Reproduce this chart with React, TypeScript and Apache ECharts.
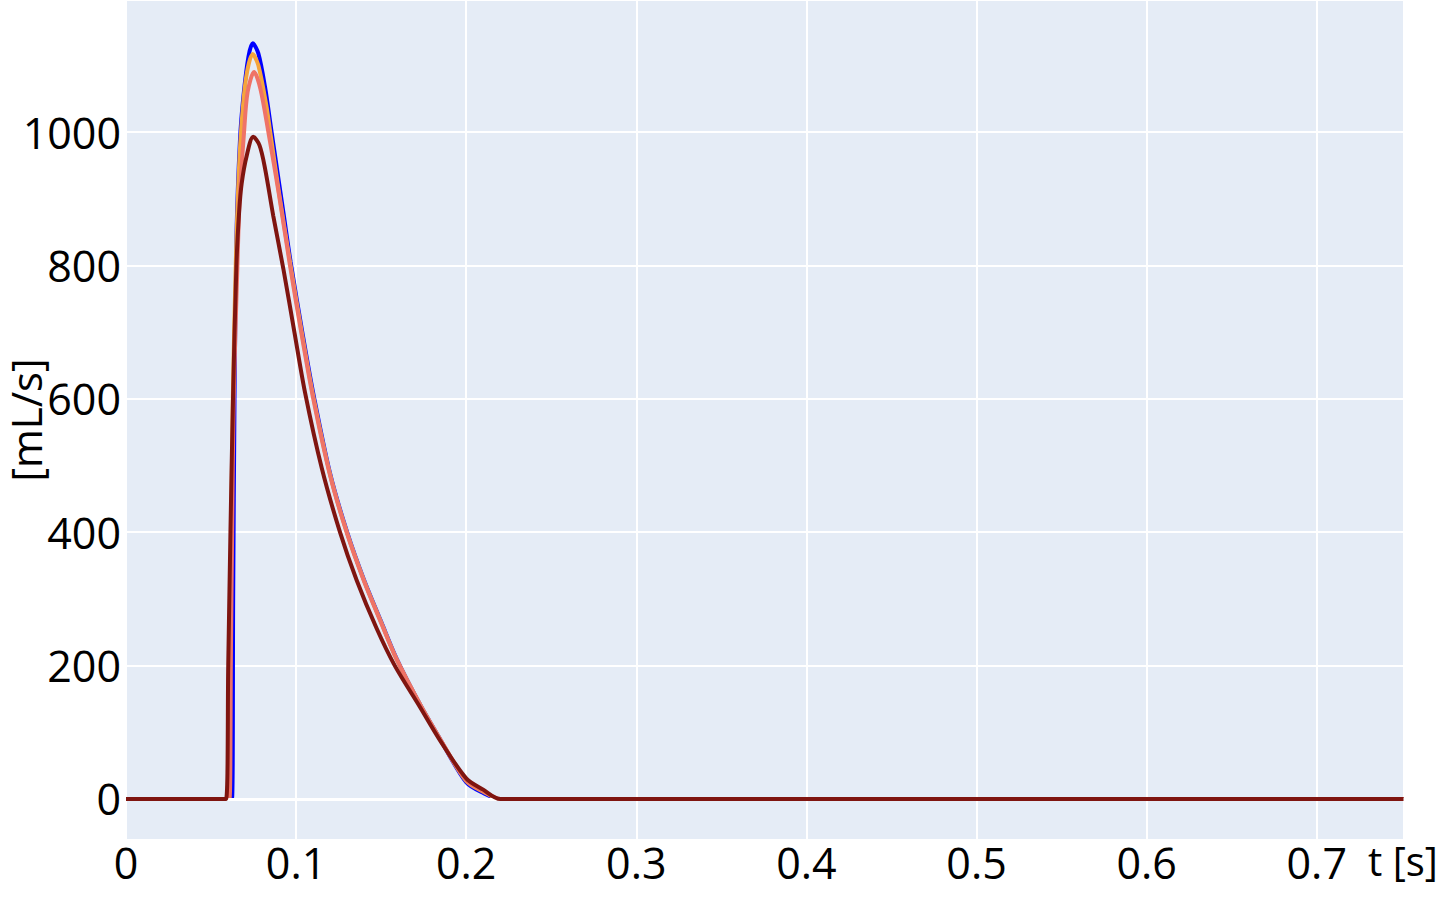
import React, { useEffect, useRef } from "react";
import * as echarts from "echarts";

// time [s] and flow [mL/s] values
const tBlue = [0, 0.0623, 0.063, 0.0638, 0.065, 0.067, 0.069, 0.072, 0.0745, 0.0778, 0.0817, 0.0856, 0.0876, 0.0925, 0.0968, 0.104, 0.1105, 0.12, 0.13, 0.14, 0.15, 0.159, 0.1728, 0.1846, 0.2, 0.21, 0.22, 0.751];
const qBlue = [0, 0, 300, 600, 850, 988, 1053, 1113, 1133, 1118, 1068, 1000, 965, 880, 805, 695, 603, 488, 400, 328, 266, 211, 142, 90, 25, 9, 0, 0];

const tOrange = [0, 0.0603, 0.0615, 0.0628, 0.0645, 0.066, 0.0676, 0.0705, 0.0745, 0.0778, 0.0825, 0.0845, 0.09, 0.0966, 0.1035, 0.1103, 0.12, 0.1298, 0.14, 0.15, 0.159, 0.1728, 0.1846, 0.2, 0.21, 0.22, 0.751];
const qOrange = [0, 0, 320, 600, 800, 920, 1000, 1080, 1117, 1100, 1040, 1005, 908, 802, 697, 601, 486, 400, 327, 265, 210, 142, 90, 27, 11, 0, 0];

const tSalmon = [0, 0.0608, 0.0616, 0.0624, 0.0633, 0.0655, 0.0668, 0.0694, 0.0715, 0.0753, 0.079, 0.0837, 0.09, 0.0964, 0.103, 0.1101, 0.12, 0.1297, 0.14, 0.15, 0.159, 0.1728, 0.1846, 0.2, 0.21, 0.22, 0.751];
const qSalmon = [0, 0, 200, 400, 600, 800, 900, 1000, 1060, 1090, 1065, 1000, 905, 800, 700, 600, 485, 400, 326, 264, 210, 142, 90, 28, 12, 0, 0];

const tDark = [0, 0.0588, 0.0601, 0.0614, 0.0629, 0.0649, 0.0665, 0.068, 0.071, 0.0748, 0.0785, 0.0817, 0.0866, 0.0925, 0.099, 0.1052, 0.115, 0.1258, 0.1356, 0.1473, 0.158, 0.1728, 0.1846, 0.2, 0.21, 0.22, 0.751];
const qDark = [0, 0, 200, 400, 600, 800, 880, 923, 965, 993, 980, 946, 874, 795, 700, 610, 497, 400, 328, 256, 200, 138, 88, 31, 14, 0, 0];

const xTicks = [0, 0.1, 0.2, 0.3, 0.4, 0.5, 0.6, 0.7];
const yTicks = [0, 200, 400, 600, 800, 1000];

const seriesColors = ["#0000ff", "#f5a53c", "#ef7367", "#7f1510"];

const pairs = (t: number[], q: number[]) => t.map((x, i) => [x, q[i]]);

export default function App() {
  const ref = useRef<HTMLDivElement>(null);
  useEffect(() => {
    if (!ref.current) return;
    const chart = echarts.init(ref.current, null, { renderer: "svg" });
    const font = "'Open Sans', 'Noto Sans', sans-serif";
    const fs = 43;
    const datasets = [
      pairs(tBlue, qBlue),
      pairs(tOrange, qOrange),
      pairs(tSalmon, qSalmon),
      pairs(tDark, qDark),
    ];
    chart.setOption({
      animation: false,
      backgroundColor: "#ffffff",
      grid: {
        left: 126,
        right: 36,
        top: 0,
        bottom: 58,
        backgroundColor: "#e5ecf6",
        show: true,
        borderWidth: 0,
        containLabel: false,
        outerBoundsMode: "none",
      },
      xAxis: {
        type: "value",
        min: 0,
        max: 0.7513,
        interval: 0.1,
        axisLine: { show: false },
        axisTick: { show: false },
        splitLine: { show: true, lineStyle: { color: "#ffffff", width: 2 } },
        axisLabel: {
          color: "#000",
          fontSize: fs,
          fontFamily: font,
          margin: 1,
          showMaxLabel: false,
          formatter: (v: number) => {
            const m = xTicks.find((t) => Math.abs(t - v) < 1e-6);
            return m === undefined ? "" : m === 0 ? "0" : String(m);
          },
        },
      },
      yAxis: {
        type: "value",
        min: -61.5,
        max: 1198,
        splitNumber: 6,
        axisLine: { show: false },
        axisTick: { show: false },
        splitLine: { show: true, lineStyle: { color: "#ffffff", width: 2 } },
        axisLabel: {
          color: "#000",
          fontSize: fs,
          fontFamily: font,
          margin: 5,
          showMinLabel: false,
          showMaxLabel: false,
          formatter: (v: number) => {
            const m = yTicks.find((t) => Math.abs(t - v) < 1e-6);
            return m === undefined ? "" : String(m);
          },
        },
        name: "[mL/s]",
        nameLocation: "middle",
        nameRotate: 90,
        nameGap: 83,
        nameMoveOverlap: false,
        nameTextStyle: { color: "#000", fontSize: 42, lineHeight: 36, fontFamily: font },
      },
      graphic: [
        {
          type: "text",
          left: 1368,
          top: 840,
          style: { text: "t [s]", fill: "#000", font: `40px ${font}` },
          z: 10,
        },
      ],
      series: [
        {
          type: "line",
          data: [],
          z: 1,
          silent: true,
          markLine: {
            silent: true,
            symbol: "none",
            label: { show: false },
            lineStyle: { color: "#ffffff", width: 3, type: "solid" },
            data: [{ yAxis: 0 }],
          },
        },
        ...datasets.map((d, i) => ({
          type: "line",
          data: d,
          z: 2 + i,
          showSymbol: false,
          smooth: 0.3,
          lineStyle: { color: seriesColors[i], width: 4 },
          itemStyle: { color: seriesColors[i] },
        })),
      ],
    });
    return () => chart.dispose();
  }, []);
  return <div ref={ref} style={{ position: "fixed", left: 0, top: 0, width: 1440, height: 898 }} />;
}
